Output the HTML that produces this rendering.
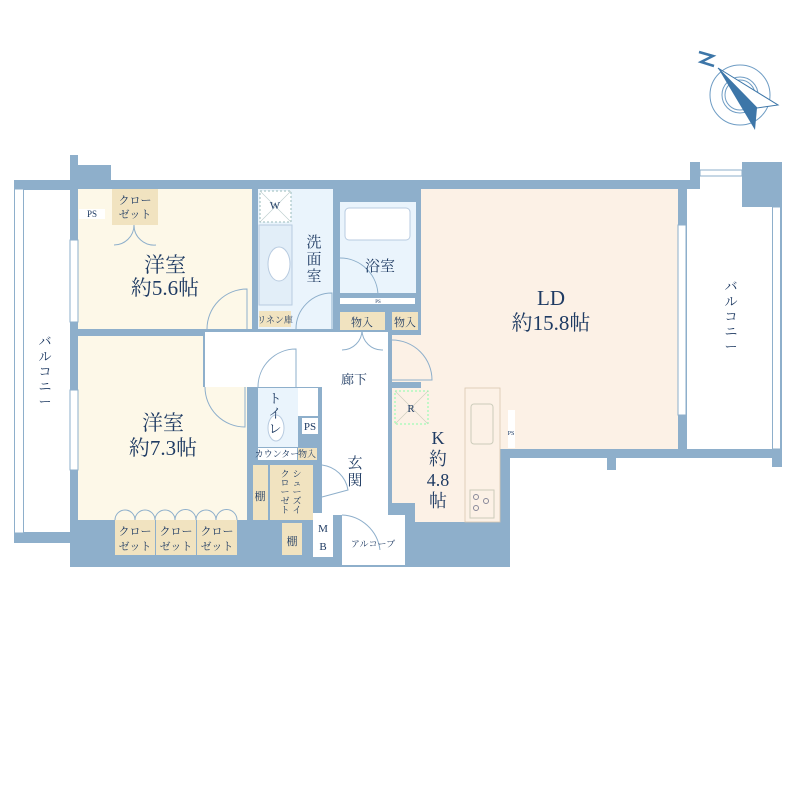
<!DOCTYPE html>
<html><head><meta charset="utf-8"><style>
body{margin:0;background:#fff}
svg{display:block}
text{font-family:"Liberation Serif","Noto Serif CJK JP",serif;fill:#1f3b63}
.s{font-size:9px}
</style></head><body>
<svg width="800" height="800" viewBox="0 0 800 800" xmlns="http://www.w3.org/2000/svg">
<g fill="#8eafcb">
<rect x="14" y="180" width="60" height="10"/>
<rect x="14" y="532" width="60" height="11"/>
<rect x="70" y="155" width="8" height="30"/>
<rect x="70" y="165" width="41" height="24"/>
<rect x="70" y="180" width="622" height="10"/>
<rect x="70" y="180" width="440" height="387"/>
<rect x="420" y="180" width="268" height="278"/>
<rect x="678" y="449" width="104" height="9"/>
<rect x="690" y="162" width="10" height="28"/>
<rect x="742" y="162" width="40" height="45"/>
<rect x="772" y="200" width="10" height="267"/>
<rect x="607" y="449" width="9" height="21"/>
<rect x="505" y="403" width="15" height="55"/>
</g>
<!-- balconies -->
<rect x="14.5" y="189" width="9" height="344" fill="#fff" stroke="#8eafcb"/>
<rect x="687" y="207" width="85" height="242" fill="#fff"/>
<rect x="687" y="189" width="55" height="18" fill="#fff"/>
<rect x="700" y="170" width="42" height="6" fill="#fff" stroke="#8eafcb"/>
<rect x="772.5" y="207" width="8" height="242" fill="#fff" stroke="#8eafcb"/>
<!-- rooms -->
<g fill="#fdf8e8">
<rect x="78" y="189" width="174" height="140"/>
<rect x="78" y="336" width="125" height="184"/>
<rect x="203" y="387" width="44" height="133"/>
</g>
<rect x="79" y="209" width="26" height="10" fill="#fff"/>
<rect x="112" y="189" width="46" height="36" fill="#f1e3c0"/>
<g fill="#fff" stroke="#8eafcb"><rect x="70" y="240" width="8" height="82"/><rect x="70" y="390" width="8" height="80"/></g>
<!-- hallway -->
<rect x="205" y="332" width="183" height="55" fill="#fff"/>
<rect x="322" y="387" width="66" height="128" fill="#fff"/>
<rect x="342" y="515" width="63" height="50" fill="#fff"/>
<!-- wash -->
<rect x="258" y="189" width="75" height="140" fill="#eaf4fc"/>
<rect x="260" y="191" width="31" height="31" fill="#fff" stroke="#9bb" stroke-dasharray="2,2"/>
<path d="M260 191L291 222M291 191L260 222" stroke="#bcc" stroke-width=".6"/>
<rect x="259" y="225" width="33" height="80" fill="#e2eef8" stroke="#b8cbe0"/>
<ellipse cx="279" cy="264" rx="11" ry="17" fill="#fff" stroke="#b8cbe0"/>
<rect x="259" y="311" width="32" height="16" fill="#f1e3c0"/>
<!-- bath -->
<rect x="340" y="202" width="76" height="91" fill="#eaf4fc"/>
<rect x="345" y="208" width="65" height="32" rx="4" fill="#fff" stroke="#b8cbe0"/>
<rect x="340" y="298" width="75" height="6" fill="#fff"/>
<rect x="340" y="312" width="45" height="18" fill="#f1e3c0"/>
<rect x="392" y="312" width="26" height="18" fill="#f1e3c0"/>
<!-- LD / K -->
<rect x="421" y="189" width="257" height="260" fill="#fcf1e6"/>
<rect x="392" y="335" width="36" height="47" fill="#fcf1e6"/>
<rect x="392" y="388" width="73" height="115" fill="#fcf1e6"/>
<rect x="415" y="503" width="50" height="19" fill="#fcf1e6"/>
<rect x="465" y="388" width="35" height="134" fill="#fcf1e6" stroke="#d8c7b0" stroke-width=".8"/>
<rect x="471" y="404" width="22" height="40" rx="3" fill="none" stroke="#ccb"/>
<rect x="470" y="490" width="24" height="28" fill="none" stroke="#ccb"/>
<circle cx="476" cy="497" r="2.5" fill="none" stroke="#889"/><circle cx="486" cy="501" r="2.5" fill="none" stroke="#889"/><circle cx="476" cy="508" r="2.5" fill="none" stroke="#889"/>
<rect x="395" y="391" width="33" height="33" fill="none" stroke="#8fa" stroke-dasharray="2,2"/>
<path d="M395 391L428 424M428 391L395 424" stroke="#ccb" stroke-width=".6"/>
<rect x="508" y="410" width="7" height="38" fill="#fff"/>
<rect x="678" y="225" width="8" height="190" fill="#fff" stroke="#8eafcb"/>
<!-- toilet -->
<rect x="258" y="388" width="40" height="59" fill="#eaf4fc"/>
<rect x="298" y="388" width="20" height="28" fill="#fff"/>
<rect x="302" y="418" width="16" height="16" fill="#fff"/>
<ellipse cx="276" cy="428" rx="8" ry="13" fill="#fff" stroke="#b8cbe0"/>
<rect x="258" y="448" width="39" height="12" fill="#fff"/>
<rect x="298" y="448" width="19" height="12" fill="#f1e3c0"/>
<rect x="253" y="465" width="15" height="55" fill="#f1e3c0"/>
<rect x="270" y="465" width="43" height="55" fill="#f1e3c0"/>
<rect x="282" y="523" width="20" height="32" fill="#f1e3c0"/>
<rect x="313" y="513" width="20" height="44" fill="#fff"/>
<!-- closets bottom -->
<g fill="#f1e3c0"><rect x="115" y="520" width="40" height="35"/><rect x="156" y="520" width="40" height="35"/><rect x="197" y="520" width="40" height="35"/></g>
<!-- doors -->
<g fill="none" stroke="#8eafcb" stroke-width="1">
<path d="M207 329 A40 40 0 0 1 247 289 V329"/>
<path d="M205 387 A40 40 0 0 0 245 427 V387"/>
<path d="M258 387 A38 38 0 0 1 296 349 V387"/>
<path d="M296 329 A36 36 0 0 1 332 293 V329"/>
<path d="M340 258 A38 38 0 0 1 378 296 H340"/>
<path d="M392 340 A40 40 0 0 1 432 380 H392" />
<path d="M322 465 A30 30 0 0 1 348 490 L322 497"/>
<path d="M342 515 A40 40 0 0 1 380 550"/>
<path d="M115 520 A10 10 0 0 1 135 520 A10 10 0 0 1 155 520 A10 10 0 0 1 175 520 A10 10 0 0 1 196 520 A10 10 0 0 1 216 520 A10 10 0 0 1 237 520"/>
<path d="M114 245 A20 20 0 0 0 134 225 A20 20 0 0 0 156 245"/>
<path d="M342 350 A20 20 0 0 0 362 330 A20 20 0 0 0 383 350"/>
</g>
<!-- compass -->
<g fill="none" stroke="#6e9cc4"><circle cx="740" cy="95" r="30"/><circle cx="740" cy="95" r="18"/><circle cx="740" cy="95" r="15"/></g>
<path d="M718 68L778 105L757 108Z" fill="#fff" stroke="#3d76a8"/>
<path d="M718 68L757 108L755 130Z" fill="#3d76a8"/>
<path d="M699 52L713 56L701 62L714 66" fill="none" stroke="#3d76a8" stroke-width="2.5"/>
<!-- labels -->
<g font-size="21" text-anchor="middle">
<text x="165" y="272">洋室</text><text x="165" y="295">約5.6帖</text>
<text x="163" y="430">洋室</text><text x="163" y="455">約7.3帖</text>
<text x="551" y="305">LD</text><text x="551" y="330">約15.8帖</text>
</g>
<g font-size="18" text-anchor="middle">
<text x="438" y="444">K</text><text x="438" y="465">約</text><text x="438" y="486">4.8</text><text x="438" y="507">帖</text>
</g>
<g font-size="15" text-anchor="middle">
<text x="314" y="247">洗</text><text x="314" y="264">面</text><text x="314" y="281">室</text>
<text x="380" y="271">浴室</text>
<text x="355" y="468">玄</text><text x="355" y="485">関</text>
</g>
<g font-size="13" text-anchor="middle">
<text x="275" y="403">ト</text><text x="275" y="418">イ</text><text x="275" y="433">レ</text>
<text x="354" y="384">廊下</text>
<text x="45" y="346">バ</text><text x="45" y="361">ル</text><text x="45" y="376">コ</text><text x="45" y="391">ニ</text><text x="45" y="406">ー</text>
<text x="731" y="291">バ</text><text x="731" y="306">ル</text><text x="731" y="321">コ</text><text x="731" y="336">ニ</text><text x="731" y="351">ー</text>
</g>
<g font-size="11" text-anchor="middle">
<text x="135" y="204">クロー</text><text x="135" y="218">ゼット</text>
<text x="135" y="535">クロー</text><text x="135" y="550">ゼット</text>
<text x="176" y="535">クロー</text><text x="176" y="550">ゼット</text>
<text x="217" y="535">クロー</text><text x="217" y="550">ゼット</text>
<text x="362" y="326">物入</text><text x="405" y="326">物入</text>
<text x="275" y="209">W</text><text x="411" y="412">R</text>
<text x="260" y="500">棚</text><text x="292" y="545">棚</text>
<text x="323" y="532">M</text><text x="323" y="550">B</text>
<text x="310" y="430">PS</text>
</g>
<g class="s" text-anchor="middle">
<text x="92" y="217">PS</text>
<text x="275" y="323">リネン庫</text>
<text x="277" y="457">カウンター</text><text x="307" y="457">物入</text>
<text x="373" y="547">アルコーブ</text>
<text x="297" y="477">シ</text><text x="297" y="486">ュ</text><text x="297" y="495">ー</text><text x="297" y="504">ズ</text><text x="297" y="513">イ</text>
<text x="285" y="477">ク</text><text x="285" y="486">ロ</text><text x="285" y="495">ー</text><text x="285" y="504">ゼ</text><text x="285" y="513">ト</text>
</g>
<text x="511" y="435" font-size="6" text-anchor="middle">PS</text>
<text x="378" y="303" font-size="5" text-anchor="middle">PS</text>
</svg>
</body></html>
